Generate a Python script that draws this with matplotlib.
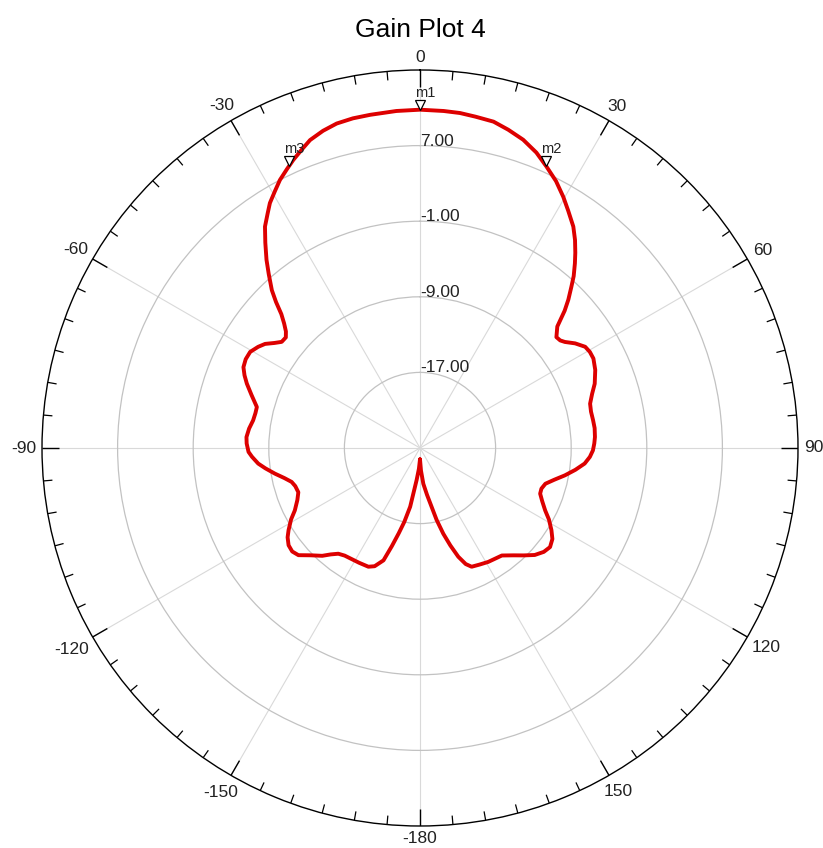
import matplotlib
matplotlib.use("Agg")
import matplotlib.pyplot as plt
import numpy as np
from matplotlib.transforms import offset_copy

plt.rcParams["font.family"] = ["Liberation Sans", "DejaVu Sans"]

# gain cut: theta in degrees, gain in dB
theta_left = [
    -180, -177, -174, -170.5, -168, -166, -164, -162, -159, -156.5,
    -152, -148.3, -145, -142.3, -140, -137.8, -134.5, -131.4, -129, -126.5,
    -124, -122, -119, -116.5, -113, -110, -107, -104.8, -102.5, -100,
    -97.5, -95.5, -93, -91.3, -88.5, -86.4, -83.5, -80.6, -78, -75.9,
    -72.5, -69.6, -67.5, -65.4, -63, -60.5, -58, -56.1, -54.2, -52.5,
    -50.5, -49, -47.5, -46, -44.6, -43.2, -41, -39.2, -37, -35,
    -33, -31.5, -29.5, -27.6, -25.5, -23.75, -21.5, -19.65, -17, -14.4,
    -11.5, -8.5, -4,
]
gain_left = [
    -23.8, -22.8, -21.6, -18.7, -17.0, -15.7, -14.2, -12.5, -11.6, -11.3,
    -11.25, -11.2, -11.1, -10.86, -10.3, -9.6, -8.8, -7.85, -7.6, -7.7,
    -8.1, -8.6, -9.4, -10.2, -10.9, -11.3, -11.2, -10.95, -10.3, -9.4,
    -8.5, -7.8, -7.2, -6.85, -6.65, -6.6, -6.8, -7.1, -7.2, -7.2,
    -6.3, -5.45, -4.9, -4.45, -4.3, -4.35, -4.8, -5.25, -6.0, -6.55,
    -6.6, -6.2, -5.5, -4.6, -3.3, -2.1, -0.6, 0.7, 2.2, 3.6,
    4.6, 5.4, 6.2, 7.0, 7.7, 8.3, 9.0, 9.6, 10.1, 10.45,
    10.6, 10.65, 10.75,
]
theta_right = [
    0, 4, 6.8, 9.5, 12.7, 15.5, 18.5, 21.5, 24.2, 27,
    29.7, 32, 34.7, 36.7, 38.5, 40, 41.8, 43.2, 45, 46.5,
    48.5, 50.9, 52.5, 53.8, 56, 58.5, 60.5, 62.7, 66, 69.8,
    72.5, 75.4, 78, 80.9, 83.5, 86.4, 88.5, 90.8, 93, 95.4,
    98, 100.7, 103.3, 105.9, 108.5, 110.8, 113.5, 116.5, 119, 122,
    124.5, 127.3, 130, 133, 136, 139, 142.7, 146, 149.1, 153,
    156.5, 158.5, 160.6, 162.7, 164.8, 167, 168.8, 171.5, 174.7, 177.5,
    180,
]
gain_right = [
    10.8, 10.75, 10.7, 10.55, 10.4, 9.95, 9.4, 8.6, 7.65, 6.7,
    5.6, 4.6, 3.5, 2.45, 1.4, 0.5, -0.6, -1.6, -2.8, -3.9,
    -5.6, -6.4, -6.3, -6.0, -5.2, -4.5, -4.35, -4.35, -4.7, -5.3,
    -5.9, -6.4, -6.5, -6.45, -6.4, -6.45, -6.55, -6.7, -7.0, -7.5,
    -8.4, -9.4, -10.4, -11.2, -11.45, -11.4, -10.9, -10.2, -9.4, -8.6,
    -8.0, -7.7, -7.9, -8.4, -9.2, -9.95, -10.7, -10.85, -10.95, -11.15,
    -11.3, -11.8, -12.8, -14.2, -15.6, -17.2, -18.6, -20.0, -21.2, -22.6,
    -23.8,
]

marker_names = ["m1", "m2", "m3"]
marker_theta = [0, 24, -25]

ring_values = [-17.0, -9.0, -1.0, 7.0]
r_min, r_max = -25.0, 15.0

angle_ticks = [0, 30, 60, 90, 120, 150, 180, 210, 240, 270, 300, 330]
angle_labels = ["0", "30", "60", "90", "120", "150", "-180", "-150", "-120", "-90", "-60", "-30"]

title = "Gain Plot 4"

theta_deg = theta_left + theta_right
gain_db = gain_left + gain_right

W, H, DPI = 823, 848, 100
fig = plt.figure(figsize=(W / DPI, H / DPI), dpi=DPI)
cx, cy, R = 420, 448, 378
px_per_db = R / (r_max - r_min)
ax = fig.add_axes([(cx - R) / W, 1 - (cy + R) / H, 2 * R / W, 2 * R / H], projection="polar")

ax.set_theta_zero_location("N")
ax.set_theta_direction(-1)

ax.set_xticks(np.deg2rad(angle_ticks))
ax.set_xticklabels([])
ax.set_yticks(ring_values)
ax.set_yticklabels([])
ax.tick_params(axis="both", length=0)

ax.xaxis.grid(True, color="#d9d9d9", linewidth=0.8)
ax.yaxis.grid(True, color="#c2c2c2", linewidth=0.9)
ax.spines["polar"].set_color("black")
ax.spines["polar"].set_linewidth(1.0)

# inward rim ticks: long every 30 deg, short every 5 deg
minor = [a for a in range(0, 360, 5) if a % 30]
ax.vlines(np.deg2rad(minor), r_max - 9 / px_per_db, r_max, color="black", linewidth=0.9)
ax.vlines(np.deg2rad(angle_ticks), r_max - 17 / px_per_db, r_max, color="black", linewidth=1.0)

th = np.deg2rad(theta_deg)
ax.plot(th, gain_db, color="#dd0000", linewidth=2.8, solid_joinstyle="round",
        solid_capstyle="round", zorder=3)
ax.set_ylim(r_min, r_max)

# ring labels along the 0 deg spoke
for v in ring_values:
    ax.text(0, v, f"{v:.2f}", ha="left", va="baseline", fontsize=12.5, color="#222222", zorder=4)

# angle labels outside the rim, nearest edge ~6 px off
fs = 12.5
em = fs * DPI / 72
for ang, lab in zip(angle_ticks, angle_labels):
    w = sum(0.333 if ch == "-" else 0.556 for ch in lab) * em / 2
    h = 0.36 * em
    ux, uy = np.sin(np.deg2rad(ang)), np.cos(np.deg2rad(ang))
    d = 6 + w * abs(ux) + h * abs(uy)
    ax.annotate(lab, xy=(np.deg2rad(ang), r_max), xytext=(d * ux, d * uy),
                textcoords="offset pixels", ha="center", va="center",
                fontsize=fs, color="#222222", annotation_clip=False)

# markers: open triangles with the tip on the trace
tri = offset_copy(ax.transData, fig=fig, x=0, y=5, units="dots")
for name, mt in zip(marker_names, marker_theta):
    g = np.interp(mt, theta_deg, gain_db)
    ax.plot([np.deg2rad(mt)], [g], marker="v", markersize=7.5, markerfacecolor="white",
            markeredgecolor="black", markeredgewidth=0.9, transform=tri, zorder=5, clip_on=False)
    ax.annotate(name, xy=(np.deg2rad(mt), g), xytext=(-5, 13), textcoords="offset pixels",
                ha="left", va="baseline", fontsize=10.5, color="#222222", zorder=5)

fig.text(cx / W, 1 - 37 / H, title, ha="center", va="baseline", fontsize=19, color="black")

fig.savefig("out.png", dpi=DPI)
